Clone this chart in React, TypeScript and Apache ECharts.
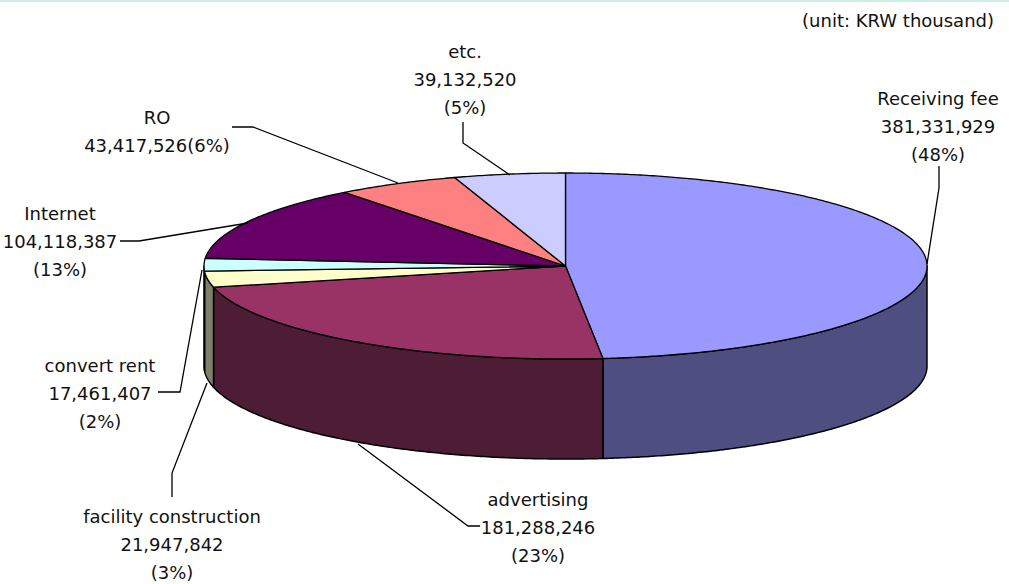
import React, { useEffect, useRef } from "react";
import * as echarts from "echarts";

// ---- data ----
const NAMES = [
  "Receiving fee",
  "advertising",
  "facility construction",
  "convert rent",
  "Internet",
  "RO",
  "etc.",
];
const VALUES = [381331929, 181288246, 21947842, 17461407, 104118387, 43417526, 39132520];
const UNIT_LABEL = "(unit: KRW thousand)";

// ---- styles ----
const TOP_COLORS = ["#9999FF", "#993366", "#FFFFCC", "#CCFFFF", "#660066", "#FF8080", "#CCCCFF"];
const SIDE_COLORS = ["#4E4E80", "#4D1C35", "#80806A", "#668080", "#330033", "#804040", "#666680"];
const FONT = '18px "DejaVu Sans", Verdana, sans-serif';
const TEXT_COLOR = "#111111";

// ---- layout ----
const PIE = { cx: 565.5, cy: 266, rx: 361.5, ry: 93, depth: 100 };
const LINE_GAP = 28;
const LABELS = [
  { x: 938, y: 98, inline: false, leader: [[939, 166], [939, 188], [927, 264]] },
  { x: 538, y: 499, inline: false, leader: [[358, 444], [468, 526], [480, 526]] },
  { x: 172, y: 516, inline: false, leader: [[172, 497], [172, 473], [207, 383]] },
  { x: 100, y: 365, inline: false, leader: [[158, 392], [180, 392], [202, 270]] },
  { x: 60, y: 213, inline: false, leader: [[120, 241], [139, 241], [248, 223]] },
  { x: 157, y: 117, inline: true, leader: [[232, 127], [253, 127], [398, 183]] },
  { x: 465, y: 51, inline: false, leader: [[463, 122], [463, 143], [510, 175]] },
];

const TOTAL = VALUES.reduce((a, b) => a + b, 0);
const STARTS: number[] = [];
const ENDS: number[] = [];
{
  let acc = 0;
  VALUES.forEach((v) => {
    STARTS.push((acc / TOTAL) * 360);
    acc += v;
    ENDS.push((acc / TOTAL) * 360);
  });
}

function pt(theta: number, dy = 0): number[] {
  const r = (theta * Math.PI) / 180;
  return [PIE.cx + PIE.rx * Math.sin(r), PIE.cy - PIE.ry * Math.cos(r) + dy];
}

function arcPoints(a: number, b: number, dy = 0): number[][] {
  const pts: number[][] = [];
  const n = Math.max(2, Math.ceil((b - a) / 0.5));
  for (let k = 0; k <= n; k++) pts.push(pt(a + ((b - a) * k) / n, dy));
  return pts;
}

function wallRender(params: any, api: any) {
  const i = params.dataIndex;
  const a = Math.max(STARTS[i], 90);
  const b = Math.min(ENDS[i], 270);
  if (a >= b) return { type: "group", children: [] };
  const top = arcPoints(a, b, 0);
  const bottom = arcPoints(a, b, PIE.depth).reverse();
  return {
    type: "polygon",
    shape: { points: top.concat(bottom) },
    style: { fill: SIDE_COLORS[i], stroke: "#000", lineWidth: 1.5, lineJoin: "round" },
  };
}

function topRender(params: any, api: any) {
  const i = params.dataIndex;
  const pts = [[PIE.cx, PIE.cy]].concat(arcPoints(STARTS[i], ENDS[i], 0));
  return {
    type: "polygon",
    shape: { points: pts },
    style: { fill: TOP_COLORS[i], stroke: "#000", lineWidth: 1.3, lineJoin: "round" },
  };
}

function fmt(v: number) {
  return v.toLocaleString("en-US");
}

function textEl(text: string, x: number, y: number, align = "center") {
  return {
    type: "text",
    x,
    y,
    z: 20,
    silent: true,
    style: {
      text,
      font: FONT,
      fill: TEXT_COLOR,
      align,
      textAlign: align,
      verticalAlign: "middle",
      textVerticalAlign: "middle",
    },
  };
}

export default function App() {
  const ref = useRef<HTMLDivElement>(null);
  useEffect(() => {
    if (!ref.current) return;
    const chart = echarts.init(ref.current, undefined, { renderer: "svg" });
    const graphics: any[] = [
      { type: "rect", shape: { x: 0, y: 0, width: 1009, height: 2 }, style: { fill: "#CDEFEA" }, silent: true },
      textEl(UNIT_LABEL, 994, 20, "right"),
    ];
    LABELS.forEach((L, i) => {
      const pct = "(" + Math.round((VALUES[i] / TOTAL) * 100) + "%)";
      const lines = L.inline ? [NAMES[i], fmt(VALUES[i]) + pct] : [NAMES[i], fmt(VALUES[i]), pct];
      lines.forEach((t, k) => graphics.push(textEl(t, L.x, L.y + k * LINE_GAP)));
      graphics.push({
        type: "polyline",
        z: 15,
        silent: true,
        shape: { points: L.leader },
        style: { stroke: "#000", lineWidth: 1.3, fill: null },
      });
    });
    chart.setOption({
      animation: false,
      graphic: graphics,
      series: [
        {
          type: "custom",
          coordinateSystem: "none",
          silent: true,
          z: 1,
          data: VALUES.map((v, i) => [i, v]),
          renderItem: wallRender,
        },
        {
          type: "custom",
          coordinateSystem: "none",
          silent: true,
          z: 2,
          data: VALUES.map((v, i) => [i, v]),
          renderItem: topRender,
        },
      ],
    });
    return () => chart.dispose();
  }, []);
  return (
    <div
      ref={ref}
      style={{ position: "absolute", left: 0, top: 0, width: 1009, height: 584, background: "#fff" }}
    />
  );
}
